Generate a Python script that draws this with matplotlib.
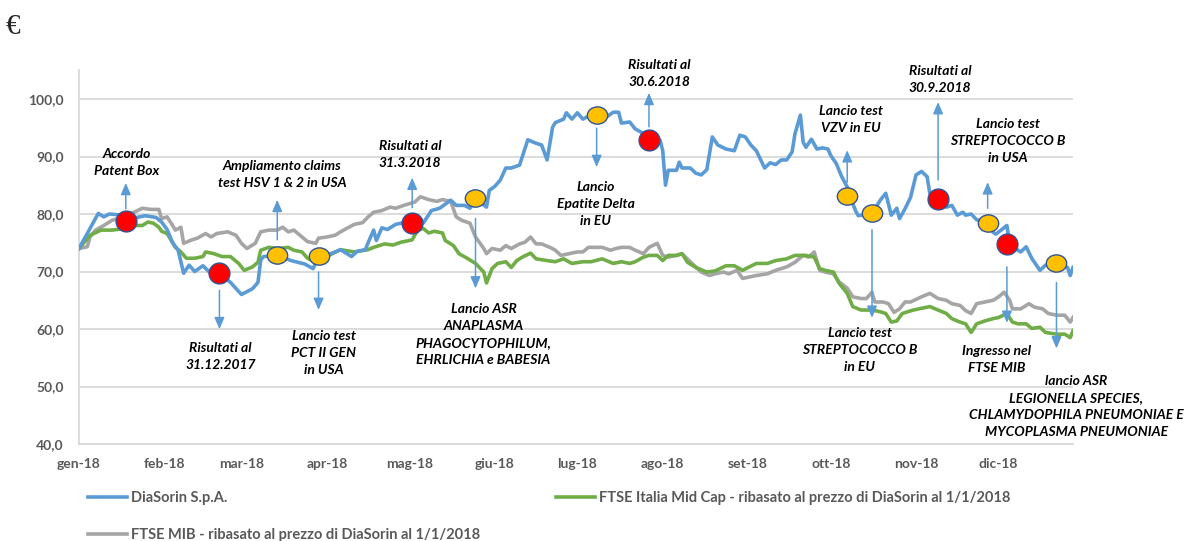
import matplotlib
matplotlib.use("Agg")
import matplotlib.pyplot as plt
import pandas as pd
from matplotlib.lines import Line2D
from matplotlib.path import Path
from matplotlib.transforms import Affine2D

plt.rcParams['font.family'] = ['Lato', 'DejaVu Sans']

# giorni dal 1/1/2018 e valori (euro)
diasorin_days = [0, 7, 9, 11, 16, 20, 24, 28, 30, 32, 34, 36, 38, 40, 42, 45, 48, 51, 55, 59,
                 63, 65, 66, 67, 72, 77, 82, 85, 87, 92, 95, 99, 101, 104, 105, 107, 108, 110, 112, 115,
                 118, 121, 124, 125, 128, 131, 135, 137, 140, 142, 144, 148, 149, 151, 153, 155, 157, 160, 163, 166,
                 168, 170, 172, 173, 176, 177, 179, 181, 183, 185, 188, 192, 194, 196, 197, 200, 202, 205, 207, 211,
                 212, 213, 214, 217, 218, 219, 222, 224, 226, 228, 230, 232, 235, 238, 240, 242, 244, 246, 249, 251,
                 253, 255, 257, 259, 260, 262, 263, 264, 266, 268, 270, 272, 273, 275, 277, 279, 280, 282, 283, 288,
                 291, 293, 295, 297, 298, 300, 302, 304, 306, 308, 309, 312, 315, 317, 319, 321, 322, 324, 326, 330,
                 332, 333, 337, 338, 340, 342, 344, 346, 349, 351, 355, 359, 360, 361]
diasorin_vals = [74.0, 80.1, 79.5, 80.0, 79.8, 79.3, 79.7, 79.4, 78.6, 77.3, 75.0, 73.7, 69.7, 71.1, 70.0, 71.0, 69.6, 69.8, 68.1, 66.0,
                 67.0, 68.1, 72.0, 72.6, 72.8, 71.9, 71.3, 70.5, 72.5, 73.2, 73.8, 72.6, 73.5, 73.8, 75.0, 77.2, 75.4, 77.6, 77.3, 78.2,
                 78.5, 78.4, 79.2, 78.4, 80.6, 81.0, 82.4, 81.5, 81.5, 81.0, 82.7, 81.2, 84.1, 84.8, 85.9, 88.0, 88.0, 88.5, 92.9, 92.3,
                 92.0, 89.4, 95.1, 95.9, 96.5, 97.6, 96.5, 97.6, 96.5, 97.0, 97.2, 97.0, 97.7, 97.7, 95.8, 96.0, 94.8, 94.0, 92.8, 92.9,
                 91.0, 85.0, 87.6, 87.6, 89.0, 88.0, 88.0, 87.1, 86.8, 87.7, 93.4, 92.0, 91.3, 91.0, 93.7, 93.4, 92.0, 91.0, 88.0, 88.9,
                 88.6, 89.4, 89.4, 90.8, 93.9, 97.2, 92.5, 91.6, 93.0, 91.3, 91.5, 91.3, 90.2, 88.8, 86.5, 84.7, 83.1, 80.6, 79.7, 80.1,
                 82.4, 83.6, 79.8, 81.0, 79.2, 80.9, 82.9, 86.8, 87.4, 86.5, 83.6, 82.6, 81.2, 81.5, 79.8, 80.3, 79.8, 80.0, 79.0, 78.4,
                 76.8, 76.5, 78.0, 74.7, 74.0, 73.4, 74.3, 72.3, 70.2, 71.1, 71.4, 70.7, 69.3, 70.7]

midcap_days = [0, 4, 8, 12, 17, 20, 23, 25, 27, 29, 30, 32, 35, 37, 39, 42, 45, 46, 49, 52,
               55, 58, 60, 63, 65, 66, 69, 72, 76, 78, 81, 83, 86, 88, 92, 95, 100, 105, 107, 111,
               114, 117, 121, 123, 125, 127, 129, 132, 133, 136, 138, 141, 144, 147, 148, 150, 152, 155, 157, 159,
               161, 164, 166, 170, 173, 176, 179, 183, 186, 190, 194, 197, 200, 202, 205, 207, 210, 212, 214, 217,
               219, 221, 224, 228, 231, 235, 238, 241, 243, 246, 250, 253, 257, 260, 264, 267, 269, 271, 274, 276,
               279, 281, 284, 288, 291, 293, 295, 297, 299, 301, 303, 306, 309, 312, 315, 317, 320, 322, 324, 326,
               329, 332, 334, 337, 339, 341, 344, 346, 349, 351, 355, 358, 360, 361]
midcap_vals = [74.0, 76.3, 77.2, 77.2, 77.5, 78.0, 78.0, 78.6, 78.4, 77.7, 77.0, 76.6, 74.2, 73.4, 72.3, 72.3, 72.6, 73.4, 73.1, 72.6,
               72.6, 71.4, 70.2, 70.8, 71.6, 73.7, 74.2, 74.0, 74.2, 73.7, 73.4, 72.3, 71.6, 72.1, 73.1, 73.8, 73.4, 73.8, 74.2, 74.8,
               74.6, 75.1, 75.5, 77.2, 77.5, 76.7, 77.0, 76.7, 75.4, 74.5, 73.1, 72.3, 71.4, 69.9, 68.0, 70.5, 71.4, 71.7, 70.7, 71.9,
               72.5, 73.2, 72.2, 71.9, 71.7, 72.2, 71.4, 71.7, 71.7, 72.2, 71.4, 71.7, 71.4, 71.7, 72.5, 72.8, 72.8, 71.9, 72.8, 72.8,
               73.1, 71.6, 70.7, 69.9, 70.1, 71.0, 71.0, 70.2, 70.7, 71.4, 71.4, 71.9, 72.2, 72.8, 72.8, 72.5, 70.5, 70.2, 69.9, 68.0,
               66.2, 63.9, 63.3, 63.3, 63.0, 62.7, 61.2, 61.4, 62.7, 63.0, 63.3, 63.6, 63.9, 63.3, 62.7, 61.8, 61.2, 60.9, 59.4, 60.9,
               61.4, 61.8, 62.0, 62.7, 61.2, 60.9, 60.9, 60.1, 60.3, 59.4, 59.1, 59.1, 58.5, 59.7]

mib_days = [0, 3, 4, 6, 9, 12, 16, 20, 23, 26, 29, 30, 32, 34, 35, 37, 38, 41, 43, 46,
            48, 50, 54, 57, 59, 61, 64, 66, 69, 72, 74, 76, 78, 81, 83, 86, 87, 90, 93, 95,
            98, 100, 103, 105, 107, 110, 113, 115, 118, 120, 122, 124, 127, 130, 132, 135, 137, 139, 142, 144,
            147, 148, 150, 153, 155, 157, 160, 162, 164, 166, 168, 171, 173, 175, 178, 181, 183, 185, 188, 190,
            193, 195, 197, 200, 202, 205, 207, 210, 212, 214, 217, 219, 222, 224, 226, 229, 231, 234, 236, 239,
            241, 243, 246, 250, 253, 257, 260, 263, 265, 267, 269, 271, 274, 276, 279, 281, 284, 286, 288, 289,
            292, 294, 296, 298, 300, 302, 306, 309, 312, 315, 317, 320, 322, 324, 326, 329, 332, 334, 336, 338,
            339, 342, 345, 347, 350, 352, 355, 358, 360, 361]
mib_vals = [74.0, 74.3, 76.0, 77.2, 78.0, 78.9, 79.5, 80.3, 81.0, 80.8, 80.8, 79.2, 79.5, 78.0, 77.2, 77.7, 74.9, 75.5, 75.8, 76.6,
            76.0, 76.6, 76.9, 76.3, 74.9, 74.0, 74.9, 76.9, 77.2, 77.2, 77.7, 76.9, 77.2, 76.0, 75.2, 74.9, 75.8, 76.0, 76.3, 76.9,
            77.7, 78.2, 78.5, 79.5, 80.3, 80.6, 81.2, 81.0, 81.5, 81.8, 82.1, 83.0, 82.5, 82.2, 82.5, 82.2, 79.5, 78.9, 78.4, 76.0,
            74.0, 73.1, 74.0, 73.7, 74.5, 74.0, 74.8, 75.1, 76.0, 74.8, 74.8, 74.2, 73.7, 72.8, 73.1, 73.4, 73.4, 74.2, 74.2, 74.2,
            73.7, 74.0, 74.2, 74.2, 73.7, 73.1, 74.2, 74.9, 72.8, 72.5, 72.8, 73.1, 71.7, 70.8, 69.9, 69.3, 69.6, 69.9, 69.6, 70.2,
            68.8, 69.0, 69.3, 69.6, 70.2, 70.8, 71.6, 72.8, 72.5, 73.4, 70.2, 69.9, 69.6, 68.2, 67.1, 65.6, 65.3, 65.3, 66.4, 64.7,
            64.7, 64.4, 62.9, 63.5, 64.7, 64.7, 65.6, 66.2, 65.3, 65.0, 64.4, 64.1, 63.2, 62.7, 64.4, 64.7, 65.0, 65.6, 66.4, 65.0,
            63.5, 63.5, 64.4, 63.8, 63.5, 62.7, 62.4, 62.4, 61.2, 62.0]

series_names = ['DiaSorin S.p.A.',
                'FTSE Italia Mid Cap - ribasato al prezzo di DiaSorin al 1/1/2018',
                'FTSE MIB - ribasato al prezzo di DiaSorin al 1/1/2018']

month_labels = ['gen-18', 'feb-18', 'mar-18', 'apr-18', 'mag-18', 'giu-18',
                'lug-18', 'ago-18', 'set-18', 'ott-18', 'nov-18', 'dic-18']

# eventi: giorno, valore, tipo (r = risultati/rosso, y = lanci/giallo), testo
ev_days = [17, 51, 72, 87, 121, 144, 188, 207, 279, 288, 312, 330, 337, 355]
ev_vals = [78.8, 69.7, 72.9, 72.7, 78.5, 82.7, 97.2, 92.9, 83.1, 80.2, 82.6, 78.4, 74.8, 71.4]
ev_type = ['r', 'r', 'y', 'y', 'r', 'y', 'y', 'r', 'y', 'y', 'r', 'y', 'r', 'y']
ev_labels = ['Accordo\nPatent Box',
             'Risultati al\n31.12.2017',
             'Ampliamento claims\ntest HSV 1 & 2 in USA',
             'Lancio test\nPCT II GEN\nin USA',
             'Risultati al\n31.3.2018',
             'Lancio ASR\nANAPLASMA\nPHAGOCYTOPHILUM,\nEHRLICHIA e BABESIA',
             'Lancio\nEpatite Delta\nin EU',
             'Risultati al\n30.6.2018',
             'Lancio test\nVZV in EU',
             'Lancio test\nSTREPTOCOCCO B\nin EU',
             'Risultati al\n30.9.2018',
             'Lancio test\nSTREPTOCOCCO B\nin USA',
             'Ingresso nel\nFTSE MIB',
             'lancio ASR\nLEGIONELLA SPECIES,\nCHLAMYDOPHILA PNEUMONIAE E\nMYCOPLASMA PNEUMONIAE']

# layout in pixel: distanza freccia dal pallino, punta freccia, posizione testo
arrow_gap = [12, 17, 15, 16, 15, 20, 13, 13, 14, 17, 19, 15, 23, 19]
arrow_tip = [38, -56, 55, -54, 45, -90, -52, 47, 46, -105, 97, 41, -79, -85]
text_off = [(1, 58), (1, -83), (5, 80), (5, -97), (-2, 68), (8, -136), (-1, -89),
            (10, 66), (4, 77), (-12, -137), (2, 120), (20, 82), (-10, -116), (20, -143)]

BLUE = '#5B9BD5'
GREEN = '#70AD47'
GREY = '#A5A5A5'
TXT = '#595959'

base = pd.Timestamp('2018-01-01')
def to_dates(days):
    return base + pd.to_timedelta(days, unit='D')

fig = plt.figure(figsize=(11.89, 5.41), dpi=100)
W, H = 1189, 541
ax = fig.add_axes([79 / W, 97 / H, (1073 - 79) / W, (444 - 70.25) / H])

LW = 2.6
ax.plot(to_dates(diasorin_days), diasorin_vals, color=BLUE, lw=LW, zorder=4, solid_joinstyle='round')
ax.plot(to_dates(midcap_days), midcap_vals, color=GREEN, lw=LW, zorder=3, solid_joinstyle='round')
ax.plot(to_dates(mib_days), mib_vals, color=GREY, lw=LW, zorder=2, solid_joinstyle='round')

ax.set_xlim(base, base + pd.Timedelta(days=361))
ax.set_ylim(40, 105)
ax.set_yticks(range(40, 101, 10))
ax.set_yticklabels([f'{v:.1f}'.replace('.', ',') for v in range(40, 101, 10)])
month_starts = pd.date_range('2018-01-01', periods=12, freq='MS')
ax.set_xticks(month_starts)
ax.set_xticklabels(month_labels)
ax.tick_params(length=0, labelsize=10, labelcolor=TXT)
ax.tick_params(axis='y', pad=11)
ax.tick_params(axis='x', pad=10)
for lab in ax.get_xticklabels() + ax.get_yticklabels():
    lab.set_fontweight('bold')

ax.grid(axis='y', color='#D9D9D9', lw=1.3)
ax.set_axisbelow(True)
for s in ['top', 'right']:
    ax.spines[s].set_visible(False)
ax.spines['left'].set_color('#D9D9D9')
ax.spines['bottom'].set_color('#D9D9D9')
ax.spines['left'].set_linewidth(1.3)
ax.spines['bottom'].set_linewidth(1.3)

# pallini degli eventi
ell = Path.unit_circle().transformed(Affine2D().scale(1.18, 1.0))
for d, v, t in zip(ev_days, ev_vals, ev_type):
    if t == 'r':
        ax.scatter(to_dates([d]), [v], s=225, marker='o', color='#FF0000',
                   edgecolor='#2F5597', linewidth=1.0, zorder=6)
    else:
        ax.scatter(to_dates([d]), [v], s=215, marker=ell, color='#FFC000',
                   edgecolor='#2F5597', linewidth=1.0, zorder=6)

for i, (d, v) in enumerate(zip(ev_days, ev_vals)):
    xy = (to_dates([d])[0], v)
    ax.annotate('', xy=xy, xytext=(0, arrow_tip[i]), textcoords='offset pixels',
                arrowprops=dict(arrowstyle='<|-,head_length=0.7,head_width=0.3',
                                color=BLUE, lw=1.1, shrinkA=0, shrinkB=arrow_gap[i] * 0.72),
                zorder=5)
    ax.annotate(ev_labels[i], xy=xy, xytext=text_off[i], textcoords='offset pixels',
                ha='center', va='center', fontsize=10, fontweight='bold', fontstyle='italic',
                linespacing=1.5, color='black', zorder=7, annotation_clip=False)

# legenda
h_blue = Line2D([], [], color=BLUE, lw=LW)
h_green = Line2D([], [], color=GREEN, lw=LW)
h_grey = Line2D([], [], color=GREY, lw=LW)
leg_kw = dict(loc='upper left', frameon=False, fontsize=10.5, handlelength=2.7,
              handletextpad=0.25, labelspacing=1.6, borderpad=0, borderaxespad=0)
leg1 = fig.legend([h_blue, h_grey], [series_names[0], series_names[2]],
                  bbox_to_anchor=(88 / W, 1 - 491 / H), **leg_kw)
leg2 = fig.legend([h_green], [series_names[1]],
                  bbox_to_anchor=(556 / W, 1 - 491 / H), **leg_kw)
for lg in (leg1, leg2):
    for t in lg.get_texts():
        t.set_color(TXT)
        t.set_fontweight('bold')

fig.text(6 / W, 1 - 27 / H, '€', fontsize=21, family='Liberation Serif', va='center',
         color='#262626')

fig.savefig('out.png', dpi=100)
